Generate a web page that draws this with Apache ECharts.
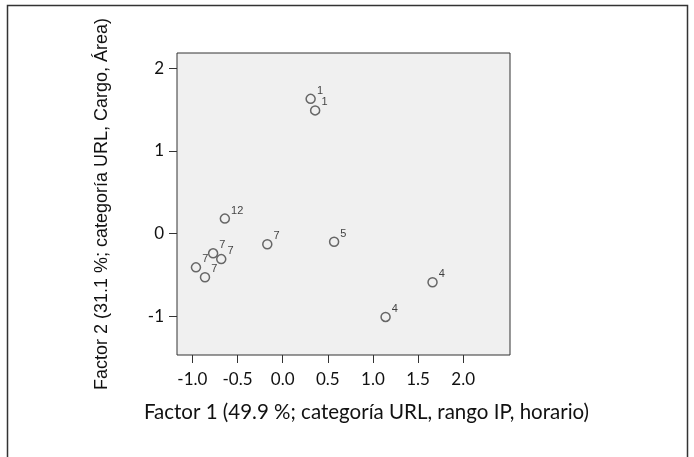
<!DOCTYPE html>
<html>
<head>
<meta charset="utf-8">
<script src="https://cdn.jsdelivr.net/npm/echarts@6/dist/echarts.min.js"></script>
<style>
html,body{margin:0;padding:0;background:#fff;}
#c{width:694px;height:457px;}
</style>
</head>
<body>
<div id="c"></div>
<script>
// Data
var factor1 = [0.31, 0.36, -0.64, -0.17, 0.57, -0.77, -0.68, -0.96, -0.86, 1.66, 1.14];
var factor2 = [1.63, 1.49, 0.18, -0.13, -0.10, -0.24, -0.31, -0.41, -0.53, -0.59, -1.01];
var pointLabels = ['1', '1', '12', '7', '5', '7', '7', '7', '7', '4', '4'];
var xTicks = [-1.0, -0.5, 0.0, 0.5, 1.0, 1.5, 2.0];
var yTicks = [-1, 0, 1, 2];
var xTitle = 'Factor 1 (49.9 %; categoría URL, rango IP, horario)';
var yTitle = 'Factor 2 (31.1 %; categoría URL, Cargo, Área)';

var data = factor1.map(function (x, i) { return { value: [x, factor2[i]], label: { formatter: pointLabels[i] } }; });

var chart = echarts.init(document.getElementById('c'), null, { renderer: 'canvas' });
chart.setOption({
  animation: false,
  backgroundColor: '#ffffff',
  grid: {
    left: 177, top: 53, width: 333, height: 302,
    show: true, backgroundColor: '#f0f0f0', borderColor: '#333', borderWidth: 1
  },
  xAxis: {
    type: 'value', min: -1.17, max: 2.518,
    splitLine: { show: false },
    axisLine: { show: false, onZero: false },
    axisTick: { show: true, customValues: xTicks, length: 8, inside: false, lineStyle: { color: '#333', width: 1 } },
    axisLabel: {
      customValues: xTicks, margin: 16,
      formatter: function (v) { return v.toFixed(1); },
      color: '#111', fontSize: 17, fontFamily: 'Lato, sans-serif'
    },
    name: xTitle, nameLocation: 'middle', nameGap: 47,
    nameTextStyle: { color: '#111', fontSize: 20.5, fontFamily: 'Lato, sans-serif', padding: [0, 0, 0, 46] }
  },
  yAxis: {
    type: 'value', min: -1.471, max: 2.185,
    splitLine: { show: false },
    axisLine: { show: false, onZero: false },
    axisTick: { show: true, customValues: yTicks, length: 8, lineStyle: { color: '#333', width: 1 } },
    axisLabel: {
      customValues: yTicks, margin: 13,
      color: '#111', fontSize: 17, fontFamily: 'Lato, sans-serif'
    },
    name: yTitle, nameLocation: 'middle', nameGap: 66, nameRotate: 90,
    nameTextStyle: { color: '#111', fontSize: 18, fontFamily: 'Liberation Sans, sans-serif' }
  },
  series: [{
    type: 'scatter',
    data: data,
    symbol: 'circle',
    symbolSize: 9,
    itemStyle: { color: 'rgba(0,0,0,0)', borderColor: '#444', borderWidth: 1.5 },
    label: {
      show: true, position: 'right', distance: 1, offset: [0, -8],
      color: '#111', fontSize: 11, fontFamily: 'Liberation Sans, sans-serif'
    },
    emphasis: { disabled: true }
  }],
  graphic: [{
    type: 'rect', silent: true,
    shape: { x: 7.5, y: 5.5, width: 680, height: 470 },
    style: { fill: 'none', stroke: '#333', lineWidth: 1.5 }
  }]
});
</script>
</body>
</html>
